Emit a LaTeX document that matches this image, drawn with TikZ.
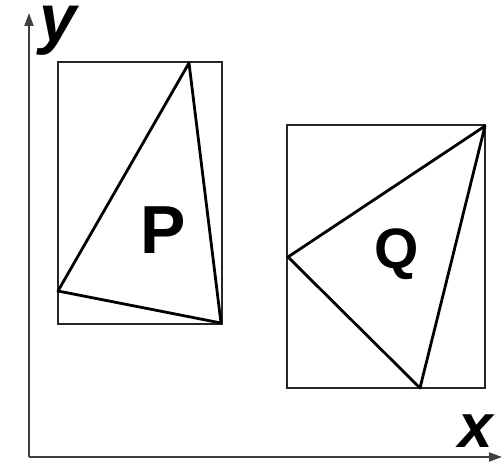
\documentclass[tikz,border=0pt]{standalone}
\usepackage{fontspec}
\setmainfont{Liberation Sans}
\usetikzlibrary{arrows.meta}
\begin{document}
\begin{tikzpicture}[x=1pt,y=-1pt,
  axis/.style={draw=black!75,line width=2pt,-{Triangle[length=13pt,width=9pt]}},
  boxr/.style={draw=black!85,line width=1.6pt},
  tri/.style={draw=black,line width=2.8pt,line join=round},
  lbl/.style={inner sep=0pt,anchor=base}]
\useasboundingbox (0,0) rectangle (502,462);
\coordinate (O) at (29,457);
\coordinate (Y) at (29,13);
\coordinate (X) at (502,457);
\draw[axis] (O) -- (Y);
\draw[axis] (O) -- (X);
\node[lbl,text height=35pt,font=\fontsize{67}{67}\selectfont\bfseries\itshape] (ly) at (58,42) {y};
\node[lbl,font=\fontsize{62}{62}\selectfont\bfseries\itshape] (lx) at (476,447) {x};
% left box and triangle P
\draw[boxr] (58,62) rectangle (222,324);
\coordinate (p1) at (189,63);
\coordinate (p2) at (58,291);
\coordinate (p3) at (221,323);
\draw[tri] (p1) -- (p2) -- (p3) -- cycle;
\node[lbl,font=\fontsize{68}{68}\selectfont\bfseries] (P) at (163,253) {P};
% right box and triangle Q
\draw[boxr] (287,125) rectangle (485,388);
\coordinate (q1) at (485,126);
\coordinate (q2) at (288,257);
\coordinate (q3) at (420,388);
\draw[tri] (q1) -- (q2) -- (q3) -- cycle;
\node[lbl,font=\fontsize{57}{57}\selectfont\bfseries] (Q) at (397,268) {Q};
\end{tikzpicture}
\end{document}
